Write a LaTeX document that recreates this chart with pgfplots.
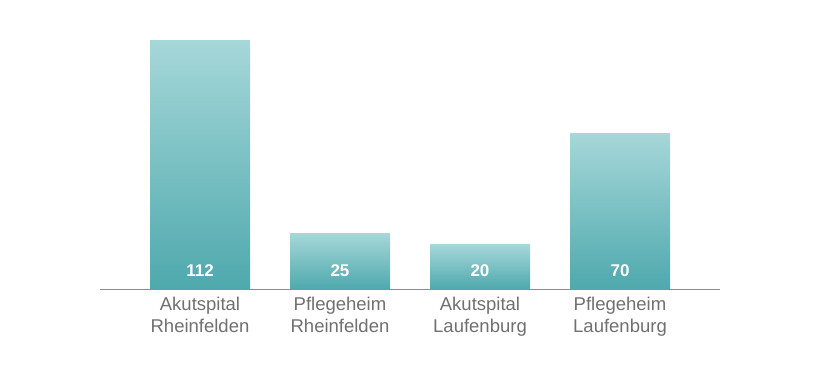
\documentclass[border=0pt]{standalone}
\usepackage{pgfplots}
\pgfplotsset{compat=1.18}
\usepackage{fontspec}
\setmainfont{Liberation Sans}
\definecolor{bartop}{HTML}{A6D7D9}
\definecolor{barbot}{HTML}{4EA9AD}
\definecolor{txtgray}{HTML}{707070}
\definecolor{axgray}{HTML}{8C8C8C}
\pgfplotsset{mybar/.style={ybar, bar width=100pt, bar shift=0pt, draw=none, mark=none, top color=bartop, bottom color=barbot}}
\begin{document}
\begin{tikzpicture}
\useasboundingbox (-100pt,-81pt) rectangle (720pt,289pt);
\begin{axis}[
  at={(0pt,0pt)}, anchor=south west,
  scale only axis, width=620pt, height=249pt,
  xmin=-0.7143, xmax=3.7143, ymin=0, ymax=112,
  axis x line*=bottom, axis y line=none,
  x axis line style={draw=axgray, line width=0.8pt, -},
  xtick={0,1,2,3},
  xticklabels={{Akutspital\\Rheinfelden},{Pflegeheim\\Rheinfelden},{Akutspital\\Laufenburg},{Pflegeheim\\Laufenburg}},
  major tick length=0pt,
  xtick style={draw=none},
  xticklabel style={align=center, text=txtgray, font=\fontsize{18.5}{22}\selectfont, inner sep=0pt, anchor=north, yshift=-7.5pt},
  ytick=\empty,
  clip=false,
]
\addplot[mybar] coordinates {(0,112)};
\addplot[mybar] coordinates {(1,25)};
\addplot[mybar] coordinates {(2,20)};
\addplot[mybar] coordinates {(3,70)};
\addplot[draw=none, mark=none, nodes near coords, point meta=explicit symbolic,
  every node near coord/.style={anchor=base, inner sep=0pt, yshift=13pt, text=white, font=\bfseries\fontsize{17}{17}\selectfont}]
  coordinates {(0,0)[112] (1,0)[25] (2,0)[20] (3,0)[70]};
\end{axis}
\end{tikzpicture}
\end{document}
